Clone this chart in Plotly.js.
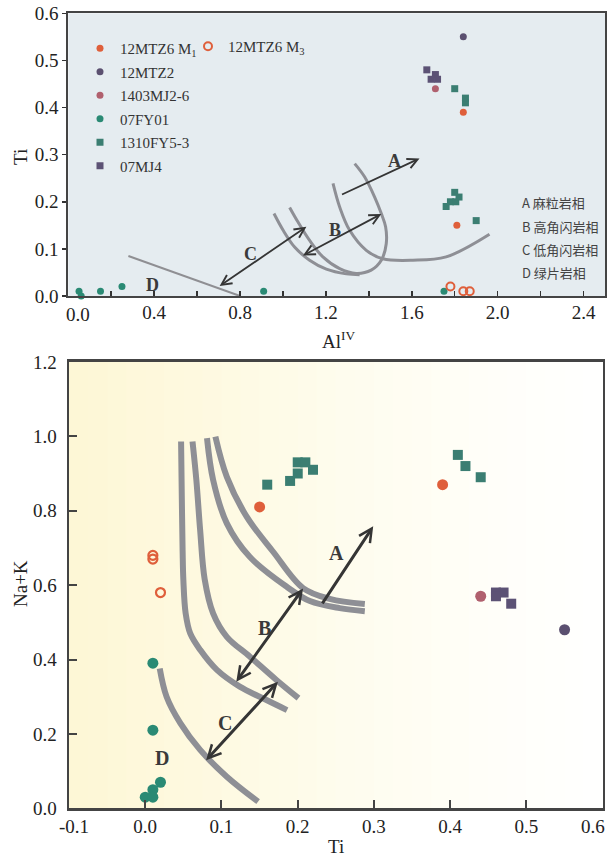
<!DOCTYPE html>
<html><head><meta charset="utf-8">
<script src="https://cdn.plot.ly/plotly-3.0.1.min.js"></script>
<style>html,body{margin:0;padding:0;background:#fff}#chart{width:607px;height:857px}</style>
</head><body><div id="chart"></div>
<script>
// ---------- sample data: Al(IV), Ti, Na+K ----------
const m1_AlIV = [1.84, 1.81];
const m1_Ti   = [0.39, 0.15];
const m1_NaK  = [0.87, 0.81];

const m3_AlIV = [1.78, 1.84, 1.87];
const m3_Ti   = [0.02, 0.01, 0.01];
const m3_NaK  = [0.58, 0.68, 0.67];

const mtz2_AlIV = [1.84];
const mtz2_Ti   = [0.55];
const mtz2_NaK  = [0.48];

const mj26_AlIV = [1.71];
const mj26_Ti   = [0.44];
const mj26_NaK  = [0.57];

const fy01_AlIV = [0.05, 0.06, 0.15, 0.25, 0.91, 1.75];
const fy01_Ti   = [0.01, 0.00, 0.01, 0.02, 0.01, 0.01];
const fy01_NaK  = [0.39, 0.03, 0.21, 0.07, 0.05, 0.03];

const fy53_AlIV = [1.90, 1.76, 1.78, 1.805, 1.82, 1.80, 1.85, 1.85, 1.80];
const fy53_Ti   = [0.16, 0.19, 0.20, 0.20, 0.21, 0.22, 0.41, 0.42, 0.44];
const fy53_NaK  = [0.87, 0.88, 0.90, 0.93, 0.93, 0.91, 0.95, 0.92, 0.89];

const mj4_AlIV = [1.67, 1.71, 1.69, 1.72];
const mj4_Ti   = [0.48, 0.47, 0.46, 0.46];
const mj4_NaK  = [0.55, 0.58, 0.58, 0.57];

const seriesNames = ['12MTZ6 M<sub>1</sub>', '12MTZ6 M<sub>3</sub>', '12MTZ2', '1403MJ2-6', '07FY01', '1310FY5-3', '07MJ4'];

// ---------- facies boundaries (upper diagram: Al(IV) vs Ti) ----------
const topLineD_x = [0.28, 0.80];
const topLineD_y = [0.085, 0.0];
const topCurve1_x = [0.958, 1.0, 1.054, 1.124, 1.202, 1.295, 1.357];
const topCurve1_y = [0.175, 0.140, 0.104, 0.076, 0.057, 0.047, 0.045];
const topCurve2_x = [1.031, 1.070, 1.124, 1.186, 1.264, 1.341, 1.411, 1.458, 1.481, 1.478, 1.458, 1.427, 1.380, 1.334];
const topCurve2_y = [0.188, 0.157, 0.118, 0.083, 0.058, 0.048, 0.055, 0.076, 0.111, 0.147, 0.175, 0.210, 0.253, 0.281];
const topCurve3_x = [1.233, 1.264, 1.310, 1.388, 1.465, 1.605, 1.760, 1.962];
const topCurve3_y = [0.239, 0.189, 0.140, 0.097, 0.079, 0.076, 0.083, 0.131];

// arrows (tail -> head) upper
const topArrowTailX = [1.268, 1.086, 0.698];
const topArrowTailY = [0.214, 0.084, 0.019];
const topArrowHeadX = [1.636, 1.458, 1.109];
const topArrowHeadY = [0.292, 0.174, 0.147];
const topArrowBoth  = [false, true, true];
const topLetters  = ['A', 'B', 'C', 'D'];
const topLetterX  = [1.52, 1.24, 0.85, 0.39];
const topLetterY  = [0.287, 0.141, 0.090, 0.023];
const faciesLabels = ['A 麻粒岩相', 'B 高角闪岩相', 'C 低角闪岩相', 'D 绿片岩相'];
const faciesLabelY = [0.198, 0.148, 0.099, 0.050];

// ---------- facies boundaries (lower diagram: Ti vs Na+K) ----------
const botCurve1_x = [0.047, 0.048, 0.049, 0.050, 0.053, 0.059, 0.072, 0.094, 0.124, 0.159, 0.186];
const botCurve1_y = [0.986, 0.829, 0.694, 0.614, 0.524, 0.470, 0.426, 0.372, 0.327, 0.291, 0.264];
const botCurve2_x = [0.062, 0.067, 0.072, 0.078, 0.089, 0.107, 0.137, 0.172, 0.201];
const botCurve2_y = [0.986, 0.883, 0.748, 0.615, 0.524, 0.461, 0.408, 0.345, 0.296];
const botCurve3_x = [0.081, 0.089, 0.107, 0.137, 0.186, 0.216, 0.255, 0.288];
const botCurve3_y = [0.995, 0.883, 0.766, 0.676, 0.595, 0.557, 0.538, 0.530];
const botCurve4_x = [0.092, 0.107, 0.133, 0.168, 0.207, 0.242, 0.288];
const botCurve4_y = [0.999, 0.891, 0.784, 0.689, 0.592, 0.563, 0.549];
const botCurveD_x = [0.019, 0.028, 0.046, 0.072, 0.107, 0.148];
const botCurveD_y = [0.376, 0.300, 0.229, 0.157, 0.085, 0.018];

const botArrowTailX = [0.231, 0.118, 0.078];
const botArrowTailY = [0.547, 0.336, 0.125];
const botArrowHeadX = [0.299, 0.207, 0.174];
const botArrowHeadY = [0.758, 0.591, 0.340];
const botArrowBoth  = [false, true, true];
const botLetterX = [0.251, 0.156, 0.105, 0.022];
const botLetterY = [0.685, 0.484, 0.229, 0.134];

// ---------- ticks ----------
const topXTickVals = [0, 0.2, 0.4, 0.6, 0.8, 1.0, 1.2, 1.4, 1.6, 1.8, 2.0, 2.2, 2.4];
const topXTickText = ['0.0', '', '0.4', '', '0.8', '', '1.2', '', '1.6', '', '2.0', '', '2.4'];
const topYTickVals = [0, 0.1, 0.2, 0.3, 0.4, 0.5, 0.6];
const topYTickText = ['0.0', '0.1', '0.2', '0.3', '0.4', '0.5', '0.6'];
const botXTickVals = [-0.1, 0, 0.1, 0.2, 0.3, 0.4, 0.5, 0.6];
const botXTickText = ['-0.1', '0.0', '0.1', '0.2', '0.3', '0.4', '0.5', '0.6'];
const botYTickVals = [0, 0.2, 0.4, 0.6, 0.8, 1.0, 1.2];
const botYTickText = ['0.0', '0.2', '0.4', '0.6', '0.8', '1.0', '1.2'];

// ---------- styles ----------
const C_M1 = '#df5f3b', C_MTZ2 = '#5b5070', C_MJ26 = '#b0606e', C_FY01 = '#2a8a74', C_FY53 = '#3b7e72', C_MJ4 = '#5c5275';
const GRAY = '#8e8f95', ARROW = '#353535';
const SERIF = 'Liberation Serif, Times New Roman, serif';
const W = 607, H = 857;

const traces = [];
function curve(x, y, xa, ya, w, col) {
  traces.push({x: x, y: y, xaxis: xa, yaxis: ya, mode: 'lines', line: {color: col, width: w, shape: 'spline', smoothing: 1},
    showlegend: false, hoverinfo: 'skip'});
}
curve(topLineD_x, topLineD_y, 'x', 'y', 2, '#8f8f93');
curve(topCurve1_x, topCurve1_y, 'x', 'y', 3, GRAY);
curve(topCurve2_x, topCurve2_y, 'x', 'y', 3, GRAY);
curve(topCurve3_x, topCurve3_y, 'x', 'y', 3, GRAY);
curve(botCurve1_x, botCurve1_y, 'x2', 'y2', 6, GRAY);
curve(botCurve2_x, botCurve2_y, 'x2', 'y2', 6, GRAY);
curve(botCurve3_x, botCurve3_y, 'x2', 'y2', 6, GRAY);
curve(botCurve4_x, botCurve4_y, 'x2', 'y2', 6, GRAY);
curve(botCurveD_x, botCurveD_y, 'x2', 'y2', 6, GRAY);

const series = [
  {name: seriesNames[0], ax: m1_AlIV, ti: m1_Ti, nk: m1_NaK, sym: 'circle', col: C_M1, legend: 'legend'},
  {name: seriesNames[2], ax: mtz2_AlIV, ti: mtz2_Ti, nk: mtz2_NaK, sym: 'circle', col: C_MTZ2, legend: 'legend'},
  {name: seriesNames[3], ax: mj26_AlIV, ti: mj26_Ti, nk: mj26_NaK, sym: 'circle', col: C_MJ26, legend: 'legend'},
  {name: seriesNames[4], ax: fy01_AlIV, ti: fy01_Ti, nk: fy01_NaK, sym: 'circle', col: C_FY01, legend: 'legend'},
  {name: seriesNames[5], ax: fy53_AlIV, ti: fy53_Ti, nk: fy53_NaK, sym: 'square', col: C_FY53, legend: 'legend'},
  {name: seriesNames[6], ax: mj4_AlIV, ti: mj4_Ti, nk: mj4_NaK, sym: 'square', col: C_MJ4, legend: 'legend'},
  {name: seriesNames[1], ax: m3_AlIV, ti: m3_Ti, nk: m3_NaK, sym: 'circle-open', col: C_M1, legend: 'legend2'}
];
series.forEach(function (s, i) {
  const open = s.sym === 'circle-open';
  const sq = s.sym === 'square';
  traces.push({x: s.ax, y: s.ti, xaxis: 'x', yaxis: 'y', mode: 'markers', name: s.name, legend: s.legend,
    legendgroup: 'g' + i, cliponaxis: false,
    marker: {symbol: s.sym, color: s.col, size: open ? 8 : 7, line: {width: open ? 2 : 0, color: s.col}}});
  traces.push({x: s.ti, y: s.nk, xaxis: 'x2', yaxis: 'y2', mode: 'markers', name: s.name, showlegend: false,
    legendgroup: 'g' + i, cliponaxis: false,
    marker: {symbol: s.sym, color: s.col, size: open ? 9 : (sq ? 10 : 11), line: {width: open ? 2.2 : 0, color: s.col}}});
});

// annotations
const annotations = [];
function arrows(tx, ty, hx, hy, both, xr, yr, w, sz) {
  for (let i = 0; i < tx.length; i++) {
    annotations.push({x: hx[i], y: hy[i], ax: tx[i], ay: ty[i], xref: xr, yref: yr, axref: xr, ayref: yr,
      text: '', showarrow: true, arrowhead: 5, startarrowhead: 5, arrowside: both[i] ? 'end+start' : 'end',
      arrowsize: sz, startarrowsize: sz, arrowwidth: w, arrowcolor: ARROW, standoff: 0, startstandoff: 0});
  }
}
arrows(topArrowTailX, topArrowTailY, topArrowHeadX, topArrowHeadY, topArrowBoth, 'x', 'y', 1.8, 1.1);
arrows(botArrowTailX, botArrowTailY, botArrowHeadX, botArrowHeadY, botArrowBoth, 'x2', 'y2', 3, 0.85);
topLetters.forEach(function (L, i) {
  annotations.push({x: topLetterX[i], y: topLetterY[i], xref: 'x', yref: 'y', text: L, showarrow: false,
    xanchor: 'center', yanchor: 'middle', font: {family: SERIF, size: 18, color: '#3a3a3a', weight: 'bold'}});
  annotations.push({x: botLetterX[i], y: botLetterY[i], xref: 'x2', yref: 'y2', text: L, showarrow: false,
    xanchor: 'center', yanchor: 'middle', font: {family: SERIF, size: 20, color: '#3a3a3a', weight: 'bold'}});
  annotations.push({x: 2.104, y: faciesLabelY[i], xref: 'x', yref: 'y', text: faciesLabels[i], showarrow: false,
    xanchor: 'left', yanchor: 'middle', font: {family: 'Noto Sans CJK SC, sans-serif', size: 13, color: '#444'}});
});
function title(text, px, py, ang, size) {
  annotations.push({x: px / W, y: 1 - py / H, xref: 'paper', yref: 'paper', text: text, showarrow: false,
    xanchor: 'center', yanchor: 'middle', textangle: ang, font: {family: SERIF, size: size || 19, color: '#222'}});
}
title('Ti', 20, 157, -90);
title('Al<sup>IV</sup>', 338, 340, 0);
title('Na+K', 20, 584, -90);
title('Ti', 336, 846, 0);
// edge tick labels, nudged inward as in the original figure
title(topXTickText[0], 78, 314, 0);
title(botXTickText[0], 74, 826, 0);
title(botXTickText[botXTickText.length - 1], 593, 826, 0);
const topXShown = topXTickText.map(function (t, i) { return i === 0 ? '' : t; });
const botXShown = botXTickText.map(function (t, i) { return (i === 0 || i === botXTickText.length - 1) ? '' : t; });

// bottom-plot background gradient bands
const shapes = [];
const stops = [[0, [253, 247, 213]], [0.25, [254, 249, 224]], [0.5, [254, 252, 237]], [0.75, [255, 254, 247]], [1, [255, 255, 255]]];
function colAt(t) {
  for (let k = 0; k < stops.length - 1; k++) {
    if (t <= stops[k + 1][0]) {
      const f = (t - stops[k][0]) / (stops[k + 1][0] - stops[k][0]);
      const a = stops[k][1], b = stops[k + 1][1];
      return 'rgb(' + a.map(function (v, j) { return Math.round(v + (b[j] - v) * f); }).join(',') + ')';
    }
  }
  return 'rgb(255,255,255)';
}
const NB = 28;
for (let i = 0; i < NB; i++) {
  shapes.push({type: 'rect', xref: 'x2 domain', yref: 'y2 domain', x0: i / NB, x1: (i + 1) / NB + 0.002, y0: 0, y1: 1,
    fillcolor: colAt((i + 0.5) / NB), line: {width: 0}, layer: 'below'});
}

const tickFont = {family: SERIF, size: 19, color: '#222'};
const layout = {
  width: W, height: H, margin: {l: 0, r: 0, t: 0, b: 0},
  paper_bgcolor: '#fff', plot_bgcolor: '#e5ecf0',
  showlegend: true,
  xaxis: {domain: [68.3 / W, 605 / W], range: [0, 2.5], anchor: 'y', tickmode: 'array', tickvals: topXTickVals, ticktext: topXShown,
    ticks: 'inside', ticklen: 5, tickwidth: 1.5, tickcolor: '#333', showline: true, linecolor: '#444', linewidth: 2, mirror: true,
    showgrid: false, zeroline: false, tickfont: tickFont, ticklabelstandoff: -2, ticklabeloverflow: 'allow'},
  yaxis: {domain: [1 - 296 / H, 1 - 13.3 / H], range: [0, 0.6], anchor: 'x', tickmode: 'array', tickvals: topYTickVals, ticktext: topYTickText,
    ticks: 'outside', ticklen: 4, tickwidth: 1.5, tickcolor: '#333', showline: true, linecolor: '#444', linewidth: 2, mirror: true,
    showgrid: false, zeroline: false, tickfont: tickFont, ticklabeloverflow: 'allow'},
  xaxis2: {domain: [69 / W, 602.7 / W], range: [-0.1, 0.6], anchor: 'y2', tickmode: 'array', tickvals: botXTickVals, ticktext: botXShown,
    ticks: 'inside', ticklen: 8, tickwidth: 2, tickcolor: '#444', showline: true, linecolor: '#444', linewidth: 2.5, mirror: true,
    showgrid: false, zeroline: false, tickfont: tickFont, ticklabelstandoff: -1, ticklabeloverflow: 'allow'},
  yaxis2: {domain: [1 - 808.3 / H, 1 - 361.9 / H], range: [0, 1.2], anchor: 'x2', tickmode: 'array', tickvals: botYTickVals, ticktext: botYTickText,
    ticks: 'inside', ticklen: 8, tickwidth: 2, tickcolor: '#444', showline: true, linecolor: '#444', linewidth: 2.5, mirror: true,
    showgrid: false, zeroline: false, tickfont: tickFont, ticklabelstandoff: 6, ticklabeloverflow: 'allow'},
  legend: {x: 80 / W, y: 1 - 32 / H, xanchor: 'left', yanchor: 'top', bgcolor: 'rgba(0,0,0,0)', tracegroupgap: 1,
    font: {family: SERIF, size: 15, color: '#333'}},
  legend2: {x: 188 / W, y: 1 - 30 / H, xanchor: 'left', yanchor: 'top', bgcolor: 'rgba(0,0,0,0)',
    font: {family: SERIF, size: 15, color: '#333'}},
  annotations: annotations, shapes: shapes
};
Plotly.newPlot('chart', traces, layout, {staticPlot: true, displayModeBar: false});
</script></body></html>
